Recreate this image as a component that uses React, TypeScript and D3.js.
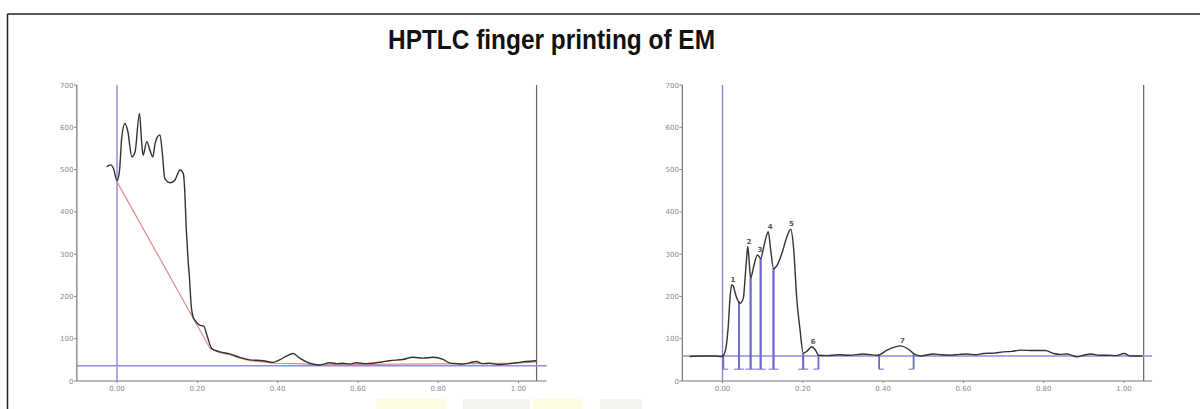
import React from 'react';
import * as d3 from 'd3';

const W = 1200;
const H = 409;

const TITLE = "HPTLC finger printing of EM";
const Y_TICKS = [0, 100, 200, 300, 400, 500, 600, 700];
const X_TICKS = [0, 0.2, 0.4, 0.6, 0.8, 1.0];
const X_TICK_LABELS = ["0.00", "0.20", "0.40", "0.60", "0.80", "1.00"];

// left track: raw scan [Rf, AU]
const LEFT_TRACE: [number, number][] = [
  [-0.026, 507], [-0.015, 511], [-0.009, 503], [0, 474], [0.006, 495], [0.012, 578],
  [0.02, 609], [0.027, 590], [0.037, 530], [0.045, 542], [0.056, 633], [0.061, 570],
  [0.065, 534], [0.074, 566], [0.082, 546], [0.089, 530], [0.095, 562], [0.1, 576],
  [0.107, 582], [0.113, 538], [0.119, 479], [0.132, 469], [0.144, 475], [0.157, 499],
  [0.165, 491], [0.169, 444], [0.172, 370], [0.175, 320], [0.177, 286], [0.18, 250],
  [0.185, 176], [0.19, 150], [0.194, 144], [0.206, 132], [0.216, 130], [0.225, 105],
  [0.236, 77], [0.256, 69], [0.281, 64], [0.306, 56], [0.331, 50], [0.364, 48],
  [0.389, 44], [0.405, 50], [0.422, 59], [0.439, 65], [0.455, 54], [0.48, 42],
  [0.505, 38], [0.53, 43], [0.547, 41], [0.563, 42], [0.58, 40], [0.596, 43],
  [0.617, 41], [0.638, 42], [0.66, 45], [0.679, 48], [0.712, 51], [0.737, 56],
  [0.762, 54], [0.787, 56], [0.812, 51], [0.828, 43], [0.845, 41], [0.861, 40],
  [0.878, 43], [0.895, 46], [0.91, 41], [0.928, 42], [0.95, 39], [0.969, 40],
  [0.994, 43], [1.019, 46], [1.044, 48]
];
// left track: drawn (red) baseline
const LEFT_RED_BASE: [number, number][] = [
  [0, 471], [0.232, 77], [0.256, 67], [0.281, 62], [0.306, 54], [0.331, 48],
  [0.364, 45], [0.389, 42], [0.45, 41], [0.5, 38], [0.7, 40], [1.0, 42], [1.044, 45]
];
const LEFT_BLUE_BASE = 36;
const LEFT_FRONT = 1.045;

// right track: integrated scan [Rf, AU]
const RIGHT_TRACE: [number, number][] = [
  [-0.082, 58], [-0.05, 59], [-0.024, 59], [-0.002, 58], [0.006, 68], [0.014, 125],
  [0.019, 200], [0.023, 228], [0.027, 225], [0.031, 210], [0.037, 193], [0.044, 184],
  [0.052, 196], [0.056, 240], [0.06, 290], [0.063, 318], [0.067, 275], [0.07, 243],
  [0.077, 268], [0.087, 298], [0.095, 290], [0.103, 318], [0.11, 345], [0.114, 353],
  [0.12, 310], [0.127, 266], [0.135, 272], [0.148, 302], [0.16, 340], [0.17, 359],
  [0.177, 315], [0.185, 195], [0.193, 122], [0.201, 66], [0.21, 70], [0.222, 81],
  [0.231, 74], [0.239, 61], [0.26, 60], [0.29, 62], [0.317, 61], [0.35, 64],
  [0.387, 61], [0.41, 73], [0.443, 83], [0.463, 75], [0.476, 65], [0.492, 59],
  [0.525, 64], [0.545, 62], [0.567, 61], [0.59, 63], [0.608, 64], [0.63, 62],
  [0.65, 65], [0.675, 66], [0.7, 69], [0.72, 70], [0.742, 73], [0.775, 72],
  [0.804, 72], [0.825, 65], [0.84, 63], [0.858, 64], [0.883, 57], [0.9, 61],
  [0.917, 64], [0.94, 61], [0.958, 61], [0.98, 60], [1.0, 65], [1.017, 59], [1.046, 59]
];
const RIGHT_BLUE_BASE = 59;
const RIGHT_FRONT = 1.049;

const PEAK_IDS = [1, 2, 3, 4, 5, 6, 7];
const PEAK_START = [0.002, 0.041, 0.070, 0.095, 0.127, 0.201, 0.390];
const PEAK_END = [0.041, 0.070, 0.095, 0.127, 0.201, 0.239, 0.476];
const PEAK_MAX_RF = [0.026, 0.066, 0.093, 0.119, 0.172, 0.226, 0.448];
const PEAK_MAX_AU = [228, 318, 298, 353, 359, 81, 83];
const INTEGRATION_FLOOR = 28;

const tickFont = "'DejaVu Sans', sans-serif";

function Track({ x0, trace, blueBase, front, red, peaks }: any) {
  const x = d3.scaleLinear().domain([0, 1]).range([x0, x0 + 401.5]);
  const y = d3.scaleLinear().domain([0, 700]).range([381, 85]);
  const left = x(-0.1);
  const right = x(1.07);
  const line = d3.line<[number, number]>().x(d => x(d[0])).y(d => y(d[1])).curve(d3.curveMonotoneX);
  const straight = d3.line<[number, number]>().x(d => x(d[0])).y(d => y(d[1]));
  const at = (rf: number) => {
    for (let i = 1; i < trace.length; i++) {
      if (trace[i][0] >= rf) {
        const [a, va] = trace[i - 1];
        const [b, vb] = trace[i];
        return va + (vb - va) * (rf - a) / (b - a);
      }
    }
    return trace[trace.length - 1][1];
  };

  return (
    <g>
      {/* axes */}
      <line x1={left} x2={left} y1={y(700)} y2={y(0)} stroke="#777" strokeWidth={1.2} />
      <line x1={left} x2={right} y1={y(0)} y2={y(0)} stroke="#777" strokeWidth={1.2} />
      {Y_TICKS.map(t => (
        <g key={t}>
          <line x1={left - 3} x2={left} y1={y(t)} y2={y(t)} stroke="#888" />
          <text x={left - 3.5} y={y(t) + 2.5} textAnchor="end" fontSize={7} fill="#8a8a8a" fontFamily={tickFont}>{t}</text>
        </g>
      ))}
      {X_TICKS.map((t, i) => (
        <g key={t}>
          <line x1={x(t)} x2={x(t)} y1={y(0)} y2={y(0) + 2} stroke="#888" />
          <text x={x(t)} y={y(0) + 10} textAnchor="middle" fontSize={7} fill="#8a8a8a" fontFamily={tickFont}>{X_TICK_LABELS[i]}</text>
        </g>
      ))}
      {/* start and front lines */}
      <line x1={x(0)} x2={x(0)} y1={y(700)} y2={y(0)} stroke="#8c8cd0" strokeWidth={1.4} />
      <line x1={x(front)} x2={x(front)} y1={y(700)} y2={y(0)} stroke="#666" strokeWidth={1.2} />
      {/* blue baseline */}
      <line x1={left} x2={right} y1={y(blueBase)} y2={y(blueBase)} stroke="#8f8fd6" strokeWidth={1.4} />
      {red && <path d={straight(red) || ""} fill="none" stroke="#e08c8c" strokeWidth={1.2} />}
      {peaks && peaks.map((p: any) => (
        <g key={p.id}>
          {[p.start, p.end].map((rf: number, k: number) => (
            <g key={k}>
              <line x1={x(rf)} x2={x(rf)} y1={y(at(rf))} y2={y(INTEGRATION_FLOOR)} stroke="#6c6cd0" strokeWidth={1.8} />
              <line x1={x(rf)} x2={x(rf) + (k === 0 ? 5 : -5)} y1={y(INTEGRATION_FLOOR)} y2={y(INTEGRATION_FLOOR)} stroke="#6c6cd0" strokeWidth={1} />
            </g>
          ))}
          <text x={x(p.rf)} y={y(p.au) - 3} textAnchor="middle" fontSize={7} fontWeight="bold" fill="#555" fontFamily={tickFont}>{p.id}</text>
        </g>
      ))}
      <path d={line(trace) || ""} fill="none" stroke="#333" strokeWidth={1.4} />
    </g>
  );
}

export default function App() {
  const peaks = PEAK_IDS.map((id, i) => ({
    id, start: PEAK_START[i], end: PEAK_END[i], rf: PEAK_MAX_RF[i], au: PEAK_MAX_AU[i]
  }));
  return (
    <svg width={W} height={H} style={{ position: "absolute", left: 0, top: 0, background: "#fff" }}>
      <rect width={W} height={H} fill="#fff" />
      {/* frame */}
      <line x1={7.5} x2={W} y1={14} y2={14} stroke="#222" strokeWidth={1.5} />
      <line x1={7.5} x2={7.5} y1={14} y2={H} stroke="#222" strokeWidth={1.5} />
      <text x={551.5} y={49} textAnchor="middle" fontSize={28} fontWeight="bold"
        fontFamily="'Liberation Sans', Arial, sans-serif" fill="#111"
        textLength={327} lengthAdjust="spacingAndGlyphs">{TITLE}</text>
      <Track x0={117} trace={LEFT_TRACE} blueBase={LEFT_BLUE_BASE} front={LEFT_FRONT} red={LEFT_RED_BASE} />
      <Track x0={722.5} trace={RIGHT_TRACE} blueBase={RIGHT_BLUE_BASE} front={RIGHT_FRONT} peaks={peaks} />
      {/* faint watermark blocks */}
      <rect x={376} y={399} width={71} height={10} fill="#fdfbe2" />
      <rect x={463} y={399} width={67} height={10} fill="#f4f3f0" />
      <rect x={533} y={399} width={50} height={10} fill="#fdfbe2" />
      <rect x={600} y={399} width={42} height={10} fill="#f4f3f0" />
    </svg>
  );
}
